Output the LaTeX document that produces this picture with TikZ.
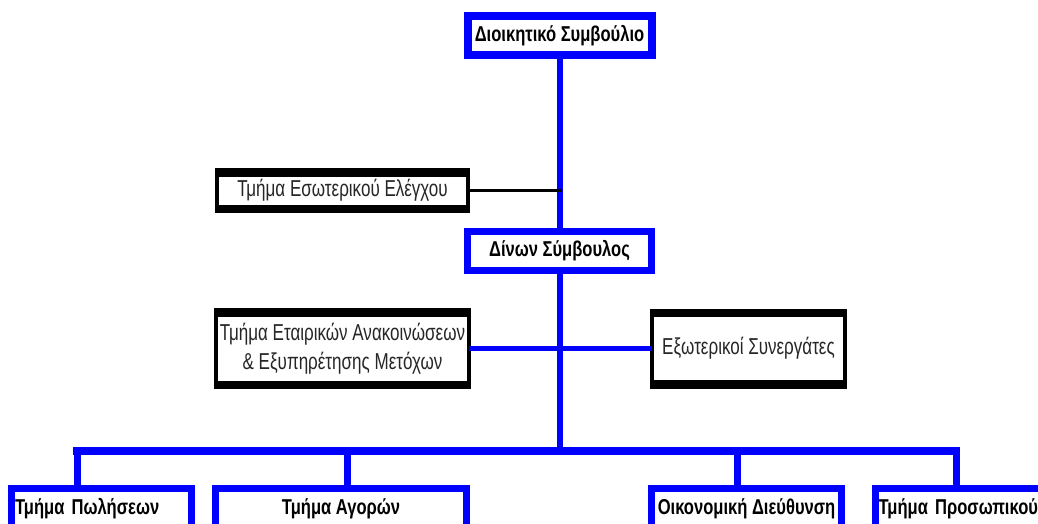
\documentclass[tikz,border=0pt]{standalone}
\usepackage{fontspec}
\setmainfont{Liberation Sans}[FakeStretch=0.77]
\newfontfamily\narrowf{Liberation Sans}[FakeStretch=0.74]
\newcommand{\tbbars}[1]{%
  \fill[black] ([xshift=-2pt,yshift=2pt]#1.north west) rectangle ([xshift=2pt,yshift=-6.5pt]#1.north east);
  \fill[black] ([xshift=-2pt,yshift=-2pt]#1.south west) rectangle ([xshift=2pt,yshift=6.5pt]#1.south east);}
\begin{document}
\begin{tikzpicture}[x=1pt,y=-1pt,
  topbox/.style={draw=blue, line width=8pt, fill=white, inner sep=0pt, outer sep=0pt,
    minimum width=184pt, minimum height=39pt, font=\fontsize{21.5}{24}\selectfont\bfseries},
  botbox/.style={draw=blue, line width=7pt, fill=white, inner sep=0pt, outer sep=0pt,
    minimum height=40pt, font=\fontsize{21.5}{24}\selectfont\bfseries},
  blackbox/.style={draw=black, line width=4pt, fill=white, inner sep=0pt, outer sep=0pt,
    text=black!85, font=\narrowf\fontsize{23}{29}\selectfont},
  trunk/.style={draw=blue, line width=6pt},
  drop/.style={draw=blue, line width=7pt},
  bus/.style={draw=blue, line width=8pt, line cap=rect},
  sideline/.style={draw=blue, line width=5pt},
  blackline/.style={draw=black, line width=3.5pt}]
\useasboundingbox (0,0) rectangle (1038,524);
\fill[white] (0,0) rectangle (1038,524);

% coordinates on the trunk and bus
\coordinate (cc) at (562,190.5);
\coordinate (bm) at (560,451);
\coordinate (b1) at (77,451);
\coordinate (b2) at (347,451);
\coordinate (b3) at (737,451);
\coordinate (b4) at (956,451);

\node[topbox] (A) at (559.5,35.5) {Διοικητικό Συμβούλιο};
\node[topbox, line width=7pt, minimum height=39pt] (B) at (559.5,251) {Δίνων Σύμβουλος};
\draw[trunk] (A.south -| bm) -- (B.north -| bm);
\draw[trunk] (B.south -| bm) -- (bm);

\node[blackbox, minimum width=251pt, minimum height=41pt] (C) at (342.5,190.5) {Τμήμα Εσωτερικού Ελέγχου};
\tbbars{C}
\draw[blackline] (C.east) -- (cc);

\node[blackbox, minimum width=253pt, minimum height=77pt, align=center] (D) at (342.5,348.5)
  {Τμήμα Εταιρικών Ανακοινώσεων\\\& Εξυπηρέτησης Μετόχων};
\tbbars{D}
\node[blackbox, minimum width=193pt, minimum height=76pt] (E) at (748.5,348.5) {Εξωτερικοί Συνεργάτες};
\tbbars{E}
\draw[sideline] (D.east) -- (E.west);

\draw[bus] (b1) -- (b4);
\node[botbox, minimum width=180pt, text width=173pt, align=left] (P1) at (101.5,508.5) {Τμήμα Πωλήσεων};
\node[botbox, minimum width=251pt] (P2) at (341,508.5) {Τμήμα Αγορών};
\node[botbox, minimum width=190pt] (P3) at (746.5,508.5) {Οικονομική Διεύθυνση};
\node[botbox, minimum width=181pt, text width=175pt, align=left] (P4) at (966,508.5) {Τμήμα Προσωπικού};
\draw[drop] (b1) -- (b1 |- P1.north);
\draw[drop] (b2) -- (b2 |- P2.north);
\draw[drop] (b3) -- (b3 |- P3.north);
\draw[drop] (b4) -- (b4 |- P4.north);
\end{tikzpicture}
\end{document}
